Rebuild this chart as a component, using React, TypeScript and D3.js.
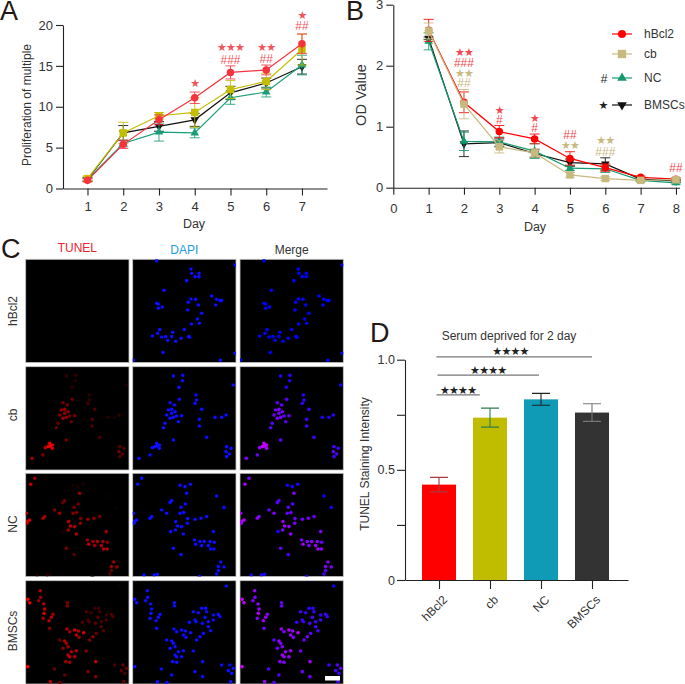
import React, { useEffect, useRef } from 'react';
import * as d3 from 'd3';

const groups = ['hBcl2', 'cb', 'NC', 'BMSCs'];
const colorsA = ['#f5333f', '#c4bd00', '#1a9e78', '#111111'];
const colorsB = ['#ff0000', '#c8b97e', '#149a6e', '#111111'];
const symbols = [d3.symbolCircle, d3.symbolSquare, d3.symbolTriangle, d3.symbolTriangle];

// Panel A, proliferation
const daysA = [1, 2, 3, 4, 5, 6, 7];
const hBcl2A = [1.0, 5.4, 8.4, 11.1, 14.2, 14.5, 17.7];
const hBcl2AErr = [0.2, 0.5, 0.6, 0.7, 0.8, 0.6, 1.2];
const cbA = [1.2, 6.8, 8.9, 9.3, 12.1, 13.1, 17.0];
const cbAErr = [0.3, 1.3, 0.4, 1.8, 1.1, 1.0, 1.9];
const ncA = [1.1, 5.5, 6.9, 6.8, 11.1, 11.8, 15.1];
const ncAErr = [0.2, 0.4, 1.1, 0.6, 0.8, 0.6, 1.2];
const bmscA = [1.1, 6.8, 7.6, 8.4, 11.7, 12.9, 14.9];
const bmscAErr = [0.2, 0.9, 0.6, 0.8, 0.8, 0.6, 0.9];

// Panel B, OD value
const daysB = [1, 2, 3, 4, 5, 6, 7, 8];
const hBcl2B = [2.58, 1.4, 0.92, 0.8, 0.48, 0.33, 0.17, 0.14];
const hBcl2BErr = [0.18, 0.17, 0.1, 0.08, 0.11, 0.06, 0.02, 0.02];
const cbB = [2.57, 1.37, 0.67, 0.57, 0.21, 0.15, 0.12, 0.13];
const cbBErr = [0.13, 0.24, 0.1, 0.07, 0.04, 0.03, 0.02, 0.02];
const ncB = [2.4, 0.76, 0.75, 0.6, 0.32, 0.31, 0.12, 0.08];
const ncBErr = [0.14, 0.15, 0.08, 0.12, 0.04, 0.06, 0.02, 0.02];
const bmscB = [2.45, 0.72, 0.74, 0.56, 0.41, 0.39, 0.14, 0.11];
const bmscBErr = [0.02, 0.21, 0.06, 0.06, 0.06, 0.1, 0.02, 0.02];

// significance marks: day, value, text, group colour index
const marksA: [number, number, string, number][] = [
  [4, 12.8, '★', 0],
  [5, 17.2, '★★★', 0],
  [5, 15.7, '###', 0],
  [6, 17.3, '★★', 0],
  [6, 15.85, '##', 0],
  [7, 21.2, '★', 0],
  [7, 19.9, '##', 0],
];
const marksB: [number, number, string, number][] = [
  [2, 2.21, '★★', 0],
  [2, 2.04, '###', 0],
  [2, 1.88, '★★', 1],
  [2, 1.72, '##', 1],
  [3, 1.26, '★', 0],
  [3, 1.11, '#', 0],
  [4, 1.14, '★', 0],
  [4, 0.98, '#', 0],
  [5, 0.86, '##', 0],
  [5, 0.7, '★★', 1],
  [6, 0.77, '★★', 1],
  [6, 0.59, '###', 1],
  [8, 0.32, '##', 0],
];

// Panel D
const tunelMeans = [0.433, 0.737, 0.82, 0.76];
const tunelErr = [0.033, 0.043, 0.027, 0.04];
const barColors = ['#ff0000', '#c0bd00', '#0f9ab5', '#333333'];
const errColors = ['#a83a3a', '#2e7d4f', '#222222', '#777777'];
const brackets: [number, number, number, number][] = [
  [-0.05, 3, 1.013, 1.035],
  [-0.03, 1.96, 0.93, 0.953],
  [-0.05, 0.8, 0.84, 0.862],
];

// Panel C, cells: x, y, TUNEL signal 0-1
type Cell = [number, number, number];
const cellsHBcl2: Cell[] = [
  [470, 92, 0], [705, 105, 0], [573, 117, 0], [575, 130, 0], [597, 130, 0], [585, 140, 0], [597, 140, 0],
  [560, 152, 0], [492, 181, 0], [635, 198, 0], [650, 208, 0], [665, 212, 0], [660, 212, 0], [647, 225, 0],
  [470, 220, 0], [475, 222, 0], [487, 231, 0], [475, 235, 0], [565, 217, 0], [573, 207, 0], [587, 208, 0],
  [595, 225, 0], [563, 240, 0], [605, 250, 0], [592, 267, 0], [574, 282, 0], [598, 280, 0], [479, 299, 0],
  [473, 310, 0], [457, 318, 0], [485, 321, 0], [497, 320, 0], [518, 307, 0], [515, 320, 0], [503, 331, 0],
  [527, 334, 0], [543, 325, 0], [553, 299, 0], [569, 322, 0], [566, 320, 0], [489, 368, 0], [661, 391, 0],
  [400, 390, 0], [705, 370, 0],
];
const cellsCb: Cell[] = [
  [548, 436, 0.2], [520, 438, 0.2], [547, 452, 0.15], [537, 472, 0.15], [700, 465, 0.1], [588, 495, 0.2],
  [590, 510, 0.2], [585, 520, 0.25], [510, 518, 0.45], [523, 525, 0.45], [538, 508, 0.4], [605, 538, 0.3],
  [515, 550, 0.55], [505, 540, 0.55], [515, 538, 0.6], [525, 545, 0.55], [500, 555, 0.5], [510, 565, 0.6],
  [520, 562, 0.55], [530, 558, 0.45], [545, 557, 0.45], [535, 575, 0.4], [495, 580, 0.4], [490, 593, 0.4],
  [598, 568, 0.3], [598, 588, 0.3], [645, 562, 0.15], [665, 562, 0.1], [678, 555, 0.2], [620, 622, 0.3],
  [520, 630, 0.45], [470, 640, 0.9], [478, 645, 0.85], [465, 650, 0.9], [457, 653, 0.7], [478, 655, 0.8],
  [472, 648, 0.95], [450, 675, 0.5], [417, 685, 0.6], [680, 650, 0.35], [693, 655, 0.3], [678, 665, 0.45],
  [688, 672, 0.35], [680, 680, 0.3],
];
const cellsNC: Cell[] = [
  [425, 55, 0.6], [413, 73, 0.75], [540, 76, 0.1], [555, 80, 0.1], [571, 73, 0.1], [560, 100, 0.6],
  [650, 108, 0.05], [515, 122, 0.4], [510, 128, 0.4], [556, 132, 0.4], [543, 142, 0.45], [672, 143, 0.05],
  [485, 150, 0.5], [500, 160, 0.6], [551, 158, 0.5], [540, 160, 0.5], [400, 160, 0.75], [410, 180, 0.8],
  [404, 184, 0.8], [402, 190, 0.7], [455, 170, 0.6], [450, 175, 0.65], [563, 176, 0.5], [527, 185, 0.7],
  [562, 190, 0.55], [603, 175, 0.55], [585, 178, 0.55], [620, 170, 0.45], [532, 198, 0.75], [545, 200, 0.7],
  [526, 210, 0.6], [512, 215, 0.1], [550, 222, 0.7], [640, 215, 0.6], [583, 240, 0.6], [587, 253, 0.75],
  [600, 245, 0.6], [613, 245, 0.65], [630, 245, 0.6], [643, 247, 0.5], [605, 257, 0.6], [625, 257, 0.7],
  [632, 267, 0.75], [642, 267, 0.7], [520, 265, 0.5], [543, 284, 0.35], [662, 306, 0.6], [655, 320, 0.6],
  [672, 321, 0.6], [655, 332, 0.4], [650, 342, 0.3], [432, 345, 0.1], [462, 345, 0.15], [472, 343, 0.1],
  [598, 350, 0.1],
];
const cellsBMSCs: Cell[] = [
  [679, 378, 0.05], [442, 392, 0.7], [443, 412, 0.6], [404, 418, 0.95], [410, 428, 0.9], [437, 422, 0.6],
  [452, 432, 0.65], [523, 428, 0.5], [523, 438, 0.5], [455, 447, 0.75], [605, 445, 0.2], [617, 445, 0.25],
  [580, 455, 0.3], [595, 458, 0.25], [620, 455, 0.25], [453, 460, 0.8], [480, 463, 0.6], [655, 463, 0.3],
  [640, 465, 0.25], [615, 472, 0.35], [660, 470, 0.3], [475, 472, 0.7], [468, 482, 0.7], [450, 475, 0.6],
  [585, 480, 0.3], [607, 490, 0.35], [625, 485, 0.3], [640, 480, 0.3], [470, 505, 0.5], [568, 487, 0.3],
  [588, 485, 0.3], [522, 507, 0.7], [530, 515, 0.6], [545, 510, 0.8], [556, 513, 0.7], [572, 518, 0.85],
  [610, 520, 0.4], [632, 512, 0.35], [625, 500, 0.35], [550, 525, 0.7], [590, 540, 0.5], [600, 530, 0.55],
  [500, 540, 0.4], [515, 543, 0.7], [520, 550, 0.6], [525, 560, 0.6], [558, 532, 0.6], [510, 565, 0.5],
  [580, 573, 0.5], [550, 572, 0.7], [535, 575, 0.7], [525, 585, 0.7], [545, 590, 0.7], [530, 590, 0.75],
  [518, 605, 0.6], [530, 607, 0.6], [608, 605, 0.75], [585, 635, 0.5], [484, 627, 0.4], [404, 620, 0.95],
  [665, 615, 0.3], [690, 615, 0.4], [700, 625, 0.4], [685, 632, 0.35], [695, 640, 0.3], [515, 645, 0.4],
  [472, 665, 0.7], [500, 668, 0.45], [608, 650, 0.5], [692, 665, 0.4],
];
const cellRows = [cellsHBcl2, cellsCb, cellsNC, cellsBMSCs];
const rowTops = [88, 410, 40, 362];
const columns = ['TUNEL', 'DAPI', 'Merge'];
const columnColors = ['#ee2233', '#1e9be0', '#333333'];

const SANS = '"Liberation Sans", Arial, sans-serif';
const STAR = '"DejaVu Sans", sans-serif';
const INK = '#222222';

const App: React.FC = () => {
  const ref = useRef<SVGSVGElement | null>(null);

  useEffect(() => {
    const svg = d3.select(ref.current);
    svg.selectAll('*').remove();

    const label = (x: number, y: number, s: string, size: number, fill = '#333333', rotate = 0, anchor = 'middle') =>
      svg.append('text')
        .attr('transform', `translate(${x},${y}) rotate(${rotate})`)
        .attr('text-anchor', anchor)
        .attr('dominant-baseline', 'central')
        .attr('fill', fill)
        .style('font-family', SANS)
        .style('font-size', `${size}px`)
        .text(s);

    const stars = (x: number, y: number, s: string, fill: string) =>
      svg.append('text')
        .attr('x', x).attr('y', y)
        .attr('text-anchor', 'middle').attr('dominant-baseline', 'central')
        .attr('fill', fill)
        .style('font-family', STAR)
        .style('font-size', '11px')
        .style('letter-spacing', '-0.8px')
        .text(s);

    const styleAxis = (g: d3.Selection<SVGGElement, unknown, null, undefined>, size: number) => {
      g.selectAll('path, line').attr('stroke', INK).attr('stroke-width', 1.1);
      g.selectAll('text').attr('fill', '#333333').style('font-family', SANS).style('font-size', `${size}px`);
    };

    // line charts with error bars
    const lineChart = (
      x: d3.ScaleLinear<number, number>,
      y: d3.ScaleLinear<number, number>,
      days: number[],
      xTicks: number[],
      yTicks: number[],
      padding: number,
      series: number[][],
      errors: number[][],
      colors: string[],
      order: number[],
      marks: [number, number, string, number][],
      markColors: string[],
    ) => {
      const gx = svg.append('g')
        .attr('transform', `translate(0,${y.range()[0]})`)
        .call(d3.axisBottom(x).tickValues(xTicks).tickFormat(d3.format('d')).tickSize(7).tickPadding(padding).tickSizeOuter(0));
      styleAxis(gx, 13);
      const gy = svg.append('g')
        .attr('transform', `translate(${x.range()[0]},0)`)
        .call(d3.axisLeft(y).tickValues(yTicks).tickFormat(d3.format('d')).tickSize(7).tickPadding(3).tickSizeOuter(0));
      styleAxis(gy, 13);

      order.forEach(i => {
        const g = svg.append('g');
        const c = colors[i];
        const line = d3.line<number>().x((_, k) => x(days[k])).y(d => y(d));
        g.append('path').attr('d', line(series[i])).attr('fill', 'none').attr('stroke', c).attr('stroke-width', 1.2);
        series[i].forEach((v, k) => {
          const cx = x(days[k]);
          const top = y(v + errors[i][k]);
          const bot = y(v - errors[i][k]);
          g.append('path')
            .attr('d', `M${cx},${top}V${bot}M${cx - 5},${top}H${cx + 5}M${cx - 5},${bot}H${cx + 5}`)
            .attr('fill', 'none').attr('stroke', c).attr('stroke-width', 1).attr('opacity', 0.85);
        });
        g.selectAll('path.pt').data(series[i]).join('path')
          .attr('class', 'pt')
          .attr('d', d3.symbol().type(symbols[i]).size(i === 0 ? 44 : i === 1 ? 56 : 32)())
          .attr('transform', (d, k) => `translate(${x(days[k])},${y(d)})${i === 3 ? ' rotate(180)' : ''}`)
          .attr('fill', c);
      });

      marks.forEach(([day, v, s, ci]) => {
        if (s.includes('★')) {
          stars(x(day), y(v), s, markColors[ci]);
        } else {
          label(x(day), y(v), s, 12, markColors[ci]);
        }
      });
    };

    // A
    const xA = d3.scaleLinear().domain([0.315, 7.7]).range([63, 327]);
    const yA = d3.scaleLinear().domain([0, 20]).range([188.5, 25]);
    lineChart(xA, yA, daysA, daysA, [0, 5, 10, 15, 20], 6,
      [hBcl2A, cbA, ncA, bmscA], [hBcl2AErr, cbAErr, ncAErr, bmscAErr],
      colorsA, [3, 2, 1, 0], marksA, ['#f2545b', '#c8b97e']);
    label(27, 105, 'Proliferation of multiple', 12, '#333333', -90);
    label(194, 224, 'Day', 12.5);

    // B
    const xB = d3.scaleLinear().domain([0, 8.1]).range([393.3, 679.5]);
    const yB = d3.scaleLinear().domain([0, 3]).range([187.7, 4.7]);
    lineChart(xB, yB, daysB, [0, ...daysB], [0, 1, 2, 3], 9,
      [hBcl2B, cbB, ncB, bmscB], [hBcl2BErr, cbBErr, ncBErr, bmscBErr],
      colorsB, [3, 2, 0, 1], marksB, ['#f04a50', '#c8b97e']);
    label(361, 95, 'OD Value', 14.5, '#333333', -90);
    label(535, 227, 'Day', 12.5);

    // legend
    const legendRows = [34, 54, 78, 105];
    groups.forEach((g, i) => {
      const ly = legendRows[i];
      svg.append('line').attr('x1', 612).attr('x2', 632).attr('y1', ly).attr('y2', ly)
        .attr('stroke', colorsB[i]).attr('stroke-width', 1.2);
      svg.append('path')
        .attr('d', d3.symbol().type(symbols[i]).size(i === 0 ? 50 : i === 1 ? 70 : 40)())
        .attr('transform', `translate(622,${ly})${i === 3 ? ' rotate(180)' : ''}`)
        .attr('fill', colorsB[i]);
      label(644, ly, g, 12, '#333333', 0, 'start');
    });
    label(604, 79, '#', 12, '#222222');
    stars(603, 105, '★', '#222222');

    // C
    const colLeft = [25.7, 132.7, 240];
    const rowY = [259.3, 366.7, 473.3, 580.7];
    const pw = 103.3;
    const defs = svg.append('defs');
    defs.append('filter').attr('id', 'soft').append('feGaussianBlur').attr('stdDeviation', 0.35);
    columns.forEach((c, ci) => {
      label(colLeft[ci] + pw / 2, ci === 0 ? 248 : 250, c, 12, columnColors[ci]);
      const cellX = d3.scaleLinear().domain([398, 708]).range([colLeft[ci], colLeft[ci] + pw]);
      cellRows.forEach((cells, ri) => {
        const h = Math.min(pw, 684 - rowY[ri]);
        const cellY = d3.scaleLinear().domain([rowTops[ri], rowTops[ri] + 310]).range([rowY[ri], rowY[ri] + pw]);
        const id = `clip-${ci}-${ri}`;
        defs.append('clipPath').attr('id', id).append('rect')
          .attr('x', colLeft[ci]).attr('y', rowY[ri]).attr('width', pw).attr('height', h);
        svg.append('rect')
          .attr('x', colLeft[ci]).attr('y', rowY[ri]).attr('width', pw).attr('height', h)
          .attr('fill', '#000000').attr('stroke', '#c4c4c4').attr('stroke-width', 0.8);
        const shown = ci === 0 ? cells.filter(d => d[2] > 0) : cells;
        const fill = (d: Cell) => {
          if (ci === 0) return `rgb(${Math.round(255 * d[2])},0,0)`;
          if (ci === 1) return '#0a0aff';
          return `rgb(${Math.round(215 * d[2])},0,255)`;
        };
        svg.append('g').attr('clip-path', `url(#${id})`).attr('filter', 'url(#soft)')
          .selectAll('circle').data(shown).join('circle')
          .attr('cx', d => cellX(d[0]))
          .attr('cy', d => cellY(d[1]))
          .attr('r', 1.8)
          .attr('fill', fill);
      });
    });
    groups.forEach((g, i) => {
      label(13, [311, 415, 524, 631][i], g, 12, '#333333', -90);
    });
    svg.append('rect').attr('x', 325).attr('y', 676).attr('width', 15).attr('height', 4.5).attr('fill', '#ffffff');

    // D
    const xD = d3.scaleLinear().domain([-0.667, 3.706]).range([405, 628]);
    const yD = d3.scaleLinear().domain([0, 1]).range([580, 359.7]);
    const barW = xD(0.667) - xD(0);
    svg.selectAll('rect.bar').data(tunelMeans).join('rect')
      .attr('class', 'bar')
      .attr('x', (_, i) => xD(i) - barW / 2)
      .attr('y', d => yD(d))
      .attr('width', barW)
      .attr('height', d => yD(0) - yD(d))
      .attr('fill', (_, i) => barColors[i]);
    tunelMeans.forEach((m, i) => {
      const cx = xD(i);
      const top = yD(m + tunelErr[i]);
      const bot = yD(m - tunelErr[i]);
      svg.append('path')
        .attr('d', `M${cx},${top}V${bot}M${cx - 9},${top}H${cx + 9}M${cx - 9},${bot}H${cx + 9}`)
        .attr('fill', 'none').attr('stroke', errColors[i]).attr('stroke-width', 1.1);
    });
    const gxD = svg.append('g')
      .attr('transform', `translate(0,${yD(0)})`)
      .call(d3.axisBottom(xD).tickValues([0, 1, 2, 3]).tickFormat(i => groups[+i]).tickSize(9).tickSizeOuter(0));
    styleAxis(gxD, 12);
    gxD.selectAll('text')
      .attr('text-anchor', 'end')
      .attr('transform', 'translate(-5,7) rotate(-45)')
      .attr('dy', '0.6em');
    const gyD = svg.append('g')
      .attr('transform', `translate(${xD(-0.667)},0)`)
      .call(d3.axisLeft(yD).tickValues([0, 0.25, 0.5, 0.75, 1]).tickFormat(d => (+d === 0 ? '0' : +d === 0.5 ? '0.5' : +d === 1 ? '1.0' : '')).tickSize(8).tickPadding(2).tickSizeOuter(0));
    styleAxis(gyD, 12.5);
    label(365, 464, 'TUNEL Staining Intensity', 12, '#333333', -90);
    label(509, 336, 'Serum deprived for 2 day', 12);
    brackets.forEach(([a, b, v, sv]) => {
      svg.append('line').attr('x1', xD(a)).attr('x2', xD(b)).attr('y1', yD(v)).attr('y2', yD(v))
        .attr('stroke', '#777777').attr('stroke-width', 1.3);
      stars((xD(a) + Math.min(xD(b), xD(a) + 148)) / 2, yD(sv), '★★★★', '#222222');
    });

    // panel letters
    [['A', 0, 11], ['B', 346, 11], ['C', 1, 249], ['D', 370, 333]].forEach(([s, x, y]) => {
      label(x as number, y as number, s as string, 27, '#231815', 0, 'start');
    });
  }, []);

  return (
    <svg
      ref={ref}
      width={685}
      height={684}
      viewBox="0 0 685 684"
      style={{ position: 'absolute', left: 0, top: 0, background: '#ffffff' }}
    ></svg>
  );
};

export default App;
